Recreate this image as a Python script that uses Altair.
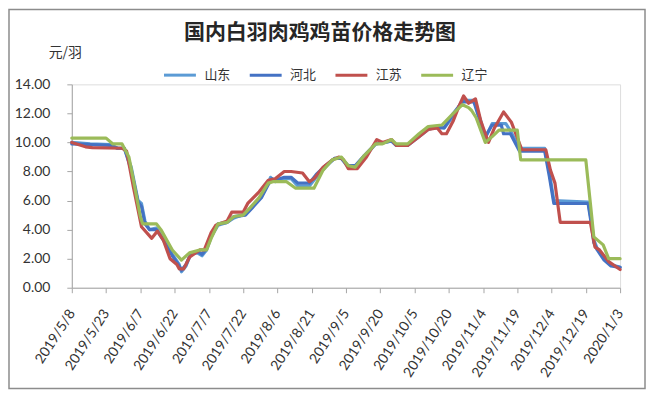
import altair as alt
import pandas as pd

# Day index: 0 = 2019/5/8 ... 240 = 2020/1/3
chart_title = '国内白羽肉鸡鸡苗价格走势图'
x_labels = ['2019/5/8', '2019/5/23', '2019/6/7', '2019/6/22', '2019/7/7', '2019/7/22',
            '2019/8/6', '2019/8/21', '2019/9/5', '2019/9/20', '2019/10/5', '2019/10/20',
            '2019/11/4', '2019/11/19', '2019/12/4', '2019/12/19', '2020/1/3']
x_ticks = [0, 15, 30, 45, 60, 75, 90, 105, 120, 135, 150, 165, 180, 195, 210, 225, 240]
y_ticks = [0, 2, 4, 6, 8, 10, 12, 14]

series_names = ['山东', '河北', '江苏', '辽宁']
series_colors = ['#5B9BD5', '#4472C4', '#C0504D', '#9BBB59']

sd_day = [0, 8, 17, 20, 23, 26, 29, 30.5, 32, 34, 37, 40, 44, 47, 48, 50, 52, 55, 57, 59, 61, 64,
          68, 71, 76, 79, 83, 86, 87, 89, 93, 96, 99, 104, 107, 111, 115, 118, 121, 124, 128, 133,
          137, 140, 142, 147, 152, 156, 161, 163, 167, 171, 176, 179, 181, 184, 190, 192, 196, 207,
          209, 211, 226, 227.5, 228.5, 230, 233, 236, 240]
sd_val = [10.0, 9.9, 9.85, 9.6, 9.6, 8.3, 6.0, 5.8, 4.6, 4.0, 4.1, 3.4, 2.3, 1.6, 1.1, 1.5, 2.3, 2.4,
          2.2, 2.6, 3.5, 4.3, 4.5, 4.8, 5.1, 5.6, 6.3, 7.2, 7.6, 7.3, 7.5, 7.5, 7.0, 7.0, 7.6, 8.3,
          8.9, 8.9, 8.3, 8.3, 9.0, 9.9, 10.0, 10.1, 9.8, 9.8, 10.4, 10.9, 11.1, 11.0, 11.8, 12.9,
          12.9, 11.5, 10.3, 11.3, 11.3, 10.8, 9.6, 9.6, 8.0, 6.0, 5.9, 4.5, 3.3, 2.7, 2.1, 1.6, 1.4]

hb_day = [0, 17, 20, 23, 26, 29, 30.5, 32, 34, 37, 40, 44, 47, 48, 50, 52, 55, 57, 59, 61, 64, 68,
          71, 76, 79, 83, 86, 87.5, 89, 93, 96, 99, 104, 107, 111, 115, 118, 121, 124, 128, 133, 137,
          140, 142, 147, 152, 156, 161, 163, 167, 171, 176, 179, 181, 184, 188, 189, 192, 196, 207,
          209, 211, 226, 227.5, 228.5, 230, 233, 236, 240]
hb_val = [9.9, 9.8, 9.6, 9.6, 8.1, 5.9, 5.6, 4.4, 4.0, 4.0, 3.3, 2.2, 1.5, 1.2, 1.6, 2.3, 2.5, 2.3,
          2.7, 3.6, 4.4, 4.5, 4.9, 5.0, 5.5, 6.2, 7.1, 7.5, 7.4, 7.6, 7.6, 7.2, 7.2, 7.8, 8.4, 8.9,
          8.9, 8.4, 8.4, 9.1, 9.9, 10.0, 10.1, 9.8, 9.8, 10.5, 11.0, 11.0, 11.0, 12.0, 12.8, 12.8,
          11.3, 10.4, 11.2, 11.2, 10.6, 10.6, 9.4, 9.4, 7.7, 5.8, 5.8, 4.3, 3.1, 2.6, 1.9, 1.5, 1.4]

js_day = [0, 6, 9, 22, 24, 27, 30.5, 35, 37.5, 40, 43, 46, 47, 49, 51.5, 56, 58, 61, 63, 68, 70,
          75, 77, 82, 86, 89, 93, 96, 101, 104, 106, 110, 114, 117, 119, 121, 125, 129, 133.5, 136,
          140, 142, 147, 152, 156, 160, 162, 164, 167, 169.5, 171.5, 173.7, 176.7, 179, 182.4, 185,
          189, 192.4, 197, 207.5, 209.5, 211.5, 213.8, 227, 229, 231, 235, 240]
js_val = [10.0, 9.7, 9.65, 9.6, 9.4, 6.9, 4.2, 3.4, 3.9, 3.3, 2.0, 1.6, 1.3, 1.3, 2.1, 2.6, 2.6, 3.8,
          4.3, 4.6, 5.2, 5.2, 5.8, 6.6, 7.4, 7.5, 8.0, 8.0, 7.9, 7.3, 7.5, 8.3, 8.8, 9.0, 8.8, 8.2,
          8.2, 9.0, 10.2, 10.0, 10.2, 9.8, 9.8, 10.4, 10.9, 11.0, 10.6, 10.6, 11.5, 12.5, 13.2,
          12.7, 13.0, 11.5, 10.0, 11.0, 12.1, 11.4, 9.5, 9.5, 8.1, 7.2, 4.5, 4.5, 2.8, 2.6, 1.8, 1.25]

ln_day = [0, 15, 18, 22, 25, 27, 30, 31, 37, 39, 44, 48, 51.5, 56, 59, 61, 64, 68, 71, 75, 78, 82,
          86, 88, 94, 98, 106, 110, 114, 118, 121, 124, 128, 133, 136, 140, 142, 147, 152, 156, 162,
          167, 171, 173.7, 175, 177, 181, 184, 187, 195, 196.5, 225, 227, 228.5, 232.6, 235, 240]
ln_val = [10.3, 10.3, 9.9, 9.9, 9.0, 7.4, 4.9, 4.4, 4.4, 4.0, 2.6, 1.9, 2.4, 2.6, 2.6, 3.4, 4.4,
          4.5, 4.9, 5.0, 5.5, 6.2, 7.2, 7.3, 7.3, 6.85, 6.85, 8.1, 8.8, 9.0, 8.4, 8.3, 9.1, 9.9, 9.9,
          10.2, 9.9, 9.9, 10.6, 11.1, 11.2, 12.0, 12.6, 12.4, 12.2, 11.7, 10.0, 10.4, 10.85, 10.85,
          8.8, 8.8, 5.8, 3.5, 2.95, 2.0, 2.0]

rows = []
for name, days, vals in zip(series_names,
                            [sd_day, hb_day, js_day, ln_day],
                            [sd_val, hb_val, js_val, ln_val]):
    for i, (d, v) in enumerate(zip(days, vals)):
        rows.append({'series': name, 'day': d, 'price': v, 'idx': i})
df = pd.DataFrame(rows)

label_expr = '[' + ','.join("'" + s + "'" for s in x_labels) + '][round(datum.value/15)]'

FONT = 'Lato'
CJK = 'Noto Sans CJK SC'

lines = alt.Chart(df).mark_line(strokeWidth=3.2, strokeJoin='round', strokeCap='round').encode(
    x=alt.X('day:Q', scale=alt.Scale(domain=[0, 240], nice=False, zero=False),
            axis=alt.Axis(values=x_ticks, labelExpr=label_expr, title=None, grid=False,
                          labelAngle=-57, labelAlign='right', labelBaseline='middle',
                          labelPadding=18, tickSize=5, labelFont=FONT, labelFontSize=14,
                          labelColor='#333333', domainColor='#a6a6a6', tickColor='#a6a6a6',
                          labelOverlap=False, labelBound=False, labelFlush=False)),
    y=alt.Y('price:Q', scale=alt.Scale(domain=[0, 14], nice=False),
            axis=alt.Axis(values=y_ticks, format='.2f', title='元/羽', grid=False,
                          titleAngle=0, titleX=-7, titleY=-32, titleAlign='center',
                          titleBaseline='middle', titleFont=CJK, titleFontSize=14,
                          titleFontWeight='normal', titleColor='#333333',
                          labelPadding=17, tickSize=5, labelFont=FONT, labelFontSize=14,
                          labelColor='#333333', domainColor='#a6a6a6', tickColor='#a6a6a6')),
    color=alt.Color('series:N',
                    scale=alt.Scale(domain=series_names, range=series_colors),
                    legend=alt.Legend(orient='none', legendX=91, legendY=-27,
                                      direction='horizontal', title=None, symbolType='stroke',
                                      symbolSize=1024, symbolStrokeWidth=3, labelFont=CJK,
                                      labelFontSize=13, labelColor='#333333', labelOffset=7,
                                      columnPadding=12, padding=0)),
    order='idx:Q'
)

frame = alt.Chart(pd.DataFrame({'k': [0]})).mark_rect(
    fill=None, stroke='#8c8c8c', strokeWidth=1.5
).encode(x=alt.value(-63), x2=alt.value(575), y=alt.value(-75), y2=alt.value(305))

title = alt.Chart(pd.DataFrame({'t': [chart_title]})).mark_text(
    font=CJK, fontSize=21, fontWeight='bold', color='#262626', align='center', baseline='middle'
).encode(text='t:N', x=alt.value(249), y=alt.value(-52))

chart = alt.layer(frame, title, lines).properties(
    width=550, height=204,
    autosize=alt.AutoSizeParams(type='none'),
    padding={'left': 64, 'top': 76, 'right': 26, 'bottom': 102}
).configure_view(stroke=None).configure(background='white')

chart.save('out.html', embed_options={'renderer': 'svg', 'actions': False})
